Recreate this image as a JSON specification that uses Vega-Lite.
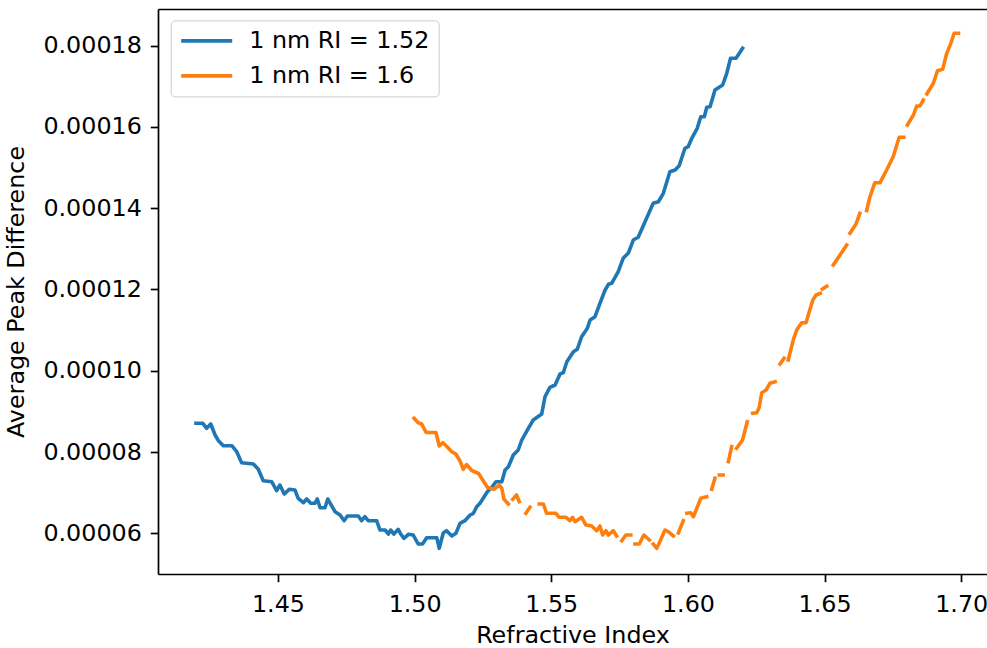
{
  "$schema": "https://vega.github.io/schema/vega-lite/v6.json",
  "width": 829,
  "height": 565,
  "autosize": "none",
  "padding": {"left": 158, "top": 9, "right": 0, "bottom": 74},
  "background": "white",
  "config": {
    "view": {"stroke": null},
    "font": "DejaVu Sans",
    "axis": {
      "labelFont": "DejaVu Sans", "titleFont": "DejaVu Sans",
      "labelFontSize": 23.8, "titleFontSize": 23.8, "titleFontWeight": "normal",
      "labelColor": "black", "titleColor": "black",
      "domainColor": "black", "tickColor": "black",
      "domainWidth": 1.7, "tickWidth": 1.7, "tickSize": 7.7,
      "grid": false
    }
  },
  "data": {"values": [
    {"s":"1 nm RI = 1.52","ri":1.4200,"apd":0.00008706},
    {"s":"1 nm RI = 1.52","ri":1.4225,"apd":0.00008706},
    {"s":"1 nm RI = 1.52","ri":1.4239,"apd":0.00008583},
    {"s":"1 nm RI = 1.52","ri":1.4254,"apd":0.00008689},
    {"s":"1 nm RI = 1.52","ri":1.4270,"apd":0.00008418},
    {"s":"1 nm RI = 1.52","ri":1.4282,"apd":0.00008278},
    {"s":"1 nm RI = 1.52","ri":1.4300,"apd":0.00008155},
    {"s":"1 nm RI = 1.52","ri":1.4331,"apd":0.00008155},
    {"s":"1 nm RI = 1.52","ri":1.4349,"apd":0.00008007},
    {"s":"1 nm RI = 1.52","ri":1.4367,"apd":0.00007737},
    {"s":"1 nm RI = 1.52","ri":1.4410,"apd":0.00007705},
    {"s":"1 nm RI = 1.52","ri":1.4428,"apd":0.00007574},
    {"s":"1 nm RI = 1.52","ri":1.4446,"apd":0.00007294},
    {"s":"1 nm RI = 1.52","ri":1.4477,"apd":0.00007269},
    {"s":"1 nm RI = 1.52","ri":1.4495,"apd":0.00007048},
    {"s":"1 nm RI = 1.52","ri":1.4507,"apd":0.00007188},
    {"s":"1 nm RI = 1.52","ri":1.4523,"apd":0.00006967},
    {"s":"1 nm RI = 1.52","ri":1.4541,"apd":0.00007082},
    {"s":"1 nm RI = 1.52","ri":1.4562,"apd":0.00007065},
    {"s":"1 nm RI = 1.52","ri":1.4574,"apd":0.00006861},
    {"s":"1 nm RI = 1.52","ri":1.4593,"apd":0.00006753},
    {"s":"1 nm RI = 1.52","ri":1.4605,"apd":0.00006844},
    {"s":"1 nm RI = 1.52","ri":1.4620,"apd":0.00006738},
    {"s":"1 nm RI = 1.52","ri":1.4635,"apd":0.00006738},
    {"s":"1 nm RI = 1.52","ri":1.4644,"apd":0.00006844},
    {"s":"1 nm RI = 1.52","ri":1.4654,"apd":0.00006630},
    {"s":"1 nm RI = 1.52","ri":1.4672,"apd":0.00006630},
    {"s":"1 nm RI = 1.52","ri":1.4682,"apd":0.00006844},
    {"s":"1 nm RI = 1.52","ri":1.4709,"apd":0.00006531},
    {"s":"1 nm RI = 1.52","ri":1.4727,"apd":0.00006450},
    {"s":"1 nm RI = 1.52","ri":1.4742,"apd":0.00006310},
    {"s":"1 nm RI = 1.52","ri":1.4754,"apd":0.00006426},
    {"s":"1 nm RI = 1.52","ri":1.4794,"apd":0.00006426},
    {"s":"1 nm RI = 1.52","ri":1.4806,"apd":0.00006310},
    {"s":"1 nm RI = 1.52","ri":1.4818,"apd":0.00006408},
    {"s":"1 nm RI = 1.52","ri":1.4830,"apd":0.00006310},
    {"s":"1 nm RI = 1.52","ri":1.4861,"apd":0.00006310},
    {"s":"1 nm RI = 1.52","ri":1.4873,"apd":0.00006081},
    {"s":"1 nm RI = 1.52","ri":1.4892,"apd":0.00006081},
    {"s":"1 nm RI = 1.52","ri":1.4904,"apd":0.00005983},
    {"s":"1 nm RI = 1.52","ri":1.4912,"apd":0.00006081},
    {"s":"1 nm RI = 1.52","ri":1.4924,"apd":0.00005983},
    {"s":"1 nm RI = 1.52","ri":1.4940,"apd":0.00006098},
    {"s":"1 nm RI = 1.52","ri":1.4949,"apd":0.00005983},
    {"s":"1 nm RI = 1.52","ri":1.4961,"apd":0.00005877},
    {"s":"1 nm RI = 1.52","ri":1.4977,"apd":0.00005975},
    {"s":"1 nm RI = 1.52","ri":1.4995,"apd":0.00005958},
    {"s":"1 nm RI = 1.52","ri":1.5013,"apd":0.00005737},
    {"s":"1 nm RI = 1.52","ri":1.5029,"apd":0.00005737},
    {"s":"1 nm RI = 1.52","ri":1.5044,"apd":0.00005892},
    {"s":"1 nm RI = 1.52","ri":1.5081,"apd":0.00005892},
    {"s":"1 nm RI = 1.52","ri":1.5090,"apd":0.00005631},
    {"s":"1 nm RI = 1.52","ri":1.5105,"apd":0.00006015},
    {"s":"1 nm RI = 1.52","ri":1.5117,"apd":0.00006064},
    {"s":"1 nm RI = 1.52","ri":1.5136,"apd":0.00005934},
    {"s":"1 nm RI = 1.52","ri":1.5151,"apd":0.00006000},
    {"s":"1 nm RI = 1.52","ri":1.5166,"apd":0.00006246},
    {"s":"1 nm RI = 1.52","ri":1.5184,"apd":0.00006310},
    {"s":"1 nm RI = 1.52","ri":1.5203,"apd":0.00006450},
    {"s":"1 nm RI = 1.52","ri":1.5215,"apd":0.00006492},
    {"s":"1 nm RI = 1.52","ri":1.5227,"apd":0.00006654},
    {"s":"1 nm RI = 1.52","ri":1.5239,"apd":0.00006738},
    {"s":"1 nm RI = 1.52","ri":1.5251,"apd":0.00006861},
    {"s":"1 nm RI = 1.52","ri":1.5266,"apd":0.00007023},
    {"s":"1 nm RI = 1.52","ri":1.5282,"apd":0.00007132},
    {"s":"1 nm RI = 1.52","ri":1.5298,"apd":0.00007269},
    {"s":"1 nm RI = 1.52","ri":1.5319,"apd":0.00007269},
    {"s":"1 nm RI = 1.52","ri":1.5331,"apd":0.00007557},
    {"s":"1 nm RI = 1.52","ri":1.5343,"apd":0.00007638},
    {"s":"1 nm RI = 1.52","ri":1.5361,"apd":0.00007926},
    {"s":"1 nm RI = 1.52","ri":1.5379,"apd":0.00008049},
    {"s":"1 nm RI = 1.52","ri":1.5392,"apd":0.00008295},
    {"s":"1 nm RI = 1.52","ri":1.5416,"apd":0.00008583},
    {"s":"1 nm RI = 1.52","ri":1.5434,"apd":0.00008787},
    {"s":"1 nm RI = 1.52","ri":1.5465,"apd":0.00008935},
    {"s":"1 nm RI = 1.52","ri":1.5477,"apd":0.00009360},
    {"s":"1 nm RI = 1.52","ri":1.5495,"apd":0.00009592},
    {"s":"1 nm RI = 1.52","ri":1.5514,"apd":0.00009648},
    {"s":"1 nm RI = 1.52","ri":1.5532,"apd":0.00009919},
    {"s":"1 nm RI = 1.52","ri":1.5544,"apd":0.00009951},
    {"s":"1 nm RI = 1.52","ri":1.5557,"apd":0.00010221},
    {"s":"1 nm RI = 1.52","ri":1.5581,"apd":0.00010467},
    {"s":"1 nm RI = 1.52","ri":1.5595,"apd":0.00010526},
    {"s":"1 nm RI = 1.52","ri":1.5611,"apd":0.00010836},
    {"s":"1 nm RI = 1.52","ri":1.5632,"apd":0.00011043},
    {"s":"1 nm RI = 1.52","ri":1.5642,"apd":0.00011247},
    {"s":"1 nm RI = 1.52","ri":1.5660,"apd":0.00011328},
    {"s":"1 nm RI = 1.52","ri":1.5678,"apd":0.00011658},
    {"s":"1 nm RI = 1.52","ri":1.5697,"apd":0.00011985},
    {"s":"1 nm RI = 1.52","ri":1.5709,"apd":0.00012125},
    {"s":"1 nm RI = 1.52","ri":1.5721,"apd":0.00012150},
    {"s":"1 nm RI = 1.52","ri":1.5745,"apd":0.00012435},
    {"s":"1 nm RI = 1.52","ri":1.5763,"apd":0.00012765},
    {"s":"1 nm RI = 1.52","ri":1.5782,"apd":0.00012895},
    {"s":"1 nm RI = 1.52","ri":1.5800,"apd":0.00013215},
    {"s":"1 nm RI = 1.52","ri":1.5818,"apd":0.00013282},
    {"s":"1 nm RI = 1.52","ri":1.5843,"apd":0.00013665},
    {"s":"1 nm RI = 1.52","ri":1.5873,"apd":0.00014118},
    {"s":"1 nm RI = 1.52","ri":1.5892,"apd":0.00014157},
    {"s":"1 nm RI = 1.52","ri":1.5910,"apd":0.00014364},
    {"s":"1 nm RI = 1.52","ri":1.5934,"apd":0.00014895},
    {"s":"1 nm RI = 1.52","ri":1.5953,"apd":0.00014937},
    {"s":"1 nm RI = 1.52","ri":1.5968,"apd":0.00015043},
    {"s":"1 nm RI = 1.52","ri":1.5989,"apd":0.00015471},
    {"s":"1 nm RI = 1.52","ri":1.6001,"apd":0.00015510},
    {"s":"1 nm RI = 1.52","ri":1.6014,"apd":0.00015717},
    {"s":"1 nm RI = 1.52","ri":1.6034,"apd":0.00015963},
    {"s":"1 nm RI = 1.52","ri":1.6047,"apd":0.00016248},
    {"s":"1 nm RI = 1.52","ri":1.6060,"apd":0.00016248},
    {"s":"1 nm RI = 1.52","ri":1.6069,"apd":0.00016480},
    {"s":"1 nm RI = 1.52","ri":1.6081,"apd":0.00016494},
    {"s":"1 nm RI = 1.52","ri":1.6099,"apd":0.00016905},
    {"s":"1 nm RI = 1.52","ri":1.6127,"apd":0.00017028},
    {"s":"1 nm RI = 1.52","ri":1.6142,"apd":0.00017316},
    {"s":"1 nm RI = 1.52","ri":1.6156,"apd":0.00017685},
    {"s":"1 nm RI = 1.52","ri":1.6176,"apd":0.00017685},
    {"s":"1 nm RI = 1.52","ri":1.6200,"apd":0.00017931},

    {"s":"1 nm RI = 1.6","ri":1.4998,"apd":0.00008829},
    {"s":"1 nm RI = 1.6","ri":1.5013,"apd":0.00008721},
    {"s":"1 nm RI = 1.6","ri":1.5026,"apd":0.00008689},
    {"s":"1 nm RI = 1.6","ri":1.5042,"apd":0.00008480},
    {"s":"1 nm RI = 1.6","ri":1.5078,"apd":0.00008480},
    {"s":"1 nm RI = 1.6","ri":1.5090,"apd":0.00008148},
    {"s":"1 nm RI = 1.6","ri":1.5103,"apd":0.00008229},
    {"s":"1 nm RI = 1.6","ri":1.5117,"apd":0.00008140},
    {"s":"1 nm RI = 1.6","ri":1.5136,"apd":0.00008007},
    {"s":"1 nm RI = 1.6","ri":1.5151,"apd":0.00007951},
    {"s":"1 nm RI = 1.6","ri":1.5166,"apd":0.00007779},
    {"s":"1 nm RI = 1.6","ri":1.5178,"apd":0.00007574},
    {"s":"1 nm RI = 1.6","ri":1.5190,"apd":0.00007692},
    {"s":"1 nm RI = 1.6","ri":1.5209,"apd":0.00007545},
    {"s":"1 nm RI = 1.6","ri":1.5234,"apd":0.00007471},
    {"s":"1 nm RI = 1.6","ri":1.5266,"apd":0.00007132},
    {"s":"1 nm RI = 1.6","ri":1.5290,"apd":0.00007082},
    {"s":"1 nm RI = 1.6","ri":1.5310,"apd":0.00007188},
    {"s":"1 nm RI = 1.6","ri":1.5319,"apd":0.00007107},
    {"s":"1 nm RI = 1.6","ri":1.5327,"apd":0.00006836},
    {"s":"1 nm RI = 1.6","ri":1.5343,"apd":0.00006721},
    {"s":"1 nm RI = 1.6","ri":1.5351,"apd":null},
    {"s":"1 nm RI = 1.6","ri":1.5359,"apd":0.00006836},
    {"s":"1 nm RI = 1.6","ri":1.5373,"apd":0.00006942},
    {"s":"1 nm RI = 1.6","ri":1.5383,"apd":0.00006777},
    {"s":"1 nm RI = 1.6","ri":1.5395,"apd":null},
    {"s":"1 nm RI = 1.6","ri":1.5407,"apd":0.00006492},
    {"s":"1 nm RI = 1.6","ri":1.5422,"apd":0.00006640},
    {"s":"1 nm RI = 1.6","ri":1.5440,"apd":null},
    {"s":"1 nm RI = 1.6","ri":1.5456,"apd":0.00006721},
    {"s":"1 nm RI = 1.6","ri":1.5471,"apd":0.00006721},
    {"s":"1 nm RI = 1.6","ri":1.5483,"apd":0.00006492},
    {"s":"1 nm RI = 1.6","ri":1.5517,"apd":0.00006492},
    {"s":"1 nm RI = 1.6","ri":1.5529,"apd":0.00006394},
    {"s":"1 nm RI = 1.6","ri":1.5554,"apd":0.00006394},
    {"s":"1 nm RI = 1.6","ri":1.5568,"apd":0.00006310},
    {"s":"1 nm RI = 1.6","ri":1.5578,"apd":0.00006394},
    {"s":"1 nm RI = 1.6","ri":1.5587,"apd":0.00006285},
    {"s":"1 nm RI = 1.6","ri":1.5611,"apd":0.00006394},
    {"s":"1 nm RI = 1.6","ri":1.5627,"apd":0.00006204},
    {"s":"1 nm RI = 1.6","ri":1.5648,"apd":0.00006180},
    {"s":"1 nm RI = 1.6","ri":1.5666,"apd":0.00006064},
    {"s":"1 nm RI = 1.6","ri":1.5678,"apd":0.00006180},
    {"s":"1 nm RI = 1.6","ri":1.5688,"apd":0.00005958},
    {"s":"1 nm RI = 1.6","ri":1.5700,"apd":0.00006064},
    {"s":"1 nm RI = 1.6","ri":1.5709,"apd":0.00005958},
    {"s":"1 nm RI = 1.6","ri":1.5727,"apd":0.00006064},
    {"s":"1 nm RI = 1.6","ri":1.5739,"apd":0.00005934},
    {"s":"1 nm RI = 1.6","ri":1.5748,"apd":null},
    {"s":"1 nm RI = 1.6","ri":1.5758,"apd":0.00005818},
    {"s":"1 nm RI = 1.6","ri":1.5773,"apd":0.00005958},
    {"s":"1 nm RI = 1.6","ri":1.5791,"apd":0.00005958},
    {"s":"1 nm RI = 1.6","ri":1.5798,"apd":null},
    {"s":"1 nm RI = 1.6","ri":1.5806,"apd":0.00005737},
    {"s":"1 nm RI = 1.6","ri":1.5822,"apd":0.00005737},
    {"s":"1 nm RI = 1.6","ri":1.5839,"apd":0.00005958},
    {"s":"1 nm RI = 1.6","ri":1.5859,"apd":0.00005835},
    {"s":"1 nm RI = 1.6","ri":1.5866,"apd":null},
    {"s":"1 nm RI = 1.6","ri":1.5873,"apd":0.00005737},
    {"s":"1 nm RI = 1.6","ri":1.5886,"apd":0.00005631},
    {"s":"1 nm RI = 1.6","ri":1.5900,"apd":0.00005835},
    {"s":"1 nm RI = 1.6","ri":1.5916,"apd":0.00006081},
    {"s":"1 nm RI = 1.6","ri":1.5928,"apd":0.00006039},
    {"s":"1 nm RI = 1.6","ri":1.5947,"apd":0.00005934},
    {"s":"1 nm RI = 1.6","ri":1.5956,"apd":null},
    {"s":"1 nm RI = 1.6","ri":1.5965,"apd":0.00006007},
    {"s":"1 nm RI = 1.6","ri":1.5983,"apd":0.00006310},
    {"s":"1 nm RI = 1.6","ri":1.5990,"apd":null},
    {"s":"1 nm RI = 1.6","ri":1.5996,"apd":0.00006492},
    {"s":"1 nm RI = 1.6","ri":1.6010,"apd":0.00006507},
    {"s":"1 nm RI = 1.6","ri":1.6020,"apd":0.00006408},
    {"s":"1 nm RI = 1.6","ri":1.6047,"apd":0.00006861},
    {"s":"1 nm RI = 1.6","ri":1.6069,"apd":0.00006900},
    {"s":"1 nm RI = 1.6","ri":1.6078,"apd":null},
    {"s":"1 nm RI = 1.6","ri":1.6087,"apd":0.00007082},
    {"s":"1 nm RI = 1.6","ri":1.6099,"apd":0.00007353},
    {"s":"1 nm RI = 1.6","ri":1.6107,"apd":null},
    {"s":"1 nm RI = 1.6","ri":1.6115,"apd":0.00007434},
    {"s":"1 nm RI = 1.6","ri":1.6129,"apd":0.00007434},
    {"s":"1 nm RI = 1.6","ri":1.6138,"apd":null},
    {"s":"1 nm RI = 1.6","ri":1.6148,"apd":0.00007761},
    {"s":"1 nm RI = 1.6","ri":1.6160,"apd":0.00008130},
    {"s":"1 nm RI = 1.6","ri":1.6169,"apd":null},
    {"s":"1 nm RI = 1.6","ri":1.6178,"apd":0.00008091},
    {"s":"1 nm RI = 1.6","ri":1.6200,"apd":0.00008295},
    {"s":"1 nm RI = 1.6","ri":1.6217,"apd":0.00008745},
    {"s":"1 nm RI = 1.6","ri":1.6227,"apd":null},
    {"s":"1 nm RI = 1.6","ri":1.6237,"apd":0.00008952},
    {"s":"1 nm RI = 1.6","ri":1.6252,"apd":0.00008967},
    {"s":"1 nm RI = 1.6","ri":1.6261,"apd":0.00009100},
    {"s":"1 nm RI = 1.6","ri":1.6270,"apd":0.00009459},
    {"s":"1 nm RI = 1.6","ri":1.6286,"apd":0.00009525},
    {"s":"1 nm RI = 1.6","ri":1.6300,"apd":0.00009690},
    {"s":"1 nm RI = 1.6","ri":1.6319,"apd":0.00009729},
    {"s":"1 nm RI = 1.6","ri":1.6328,"apd":null},
    {"s":"1 nm RI = 1.6","ri":1.6337,"apd":0.00010165},
    {"s":"1 nm RI = 1.6","ri":1.6352,"apd":0.00010305},
    {"s":"1 nm RI = 1.6","ri":1.6360,"apd":null},
    {"s":"1 nm RI = 1.6","ri":1.6367,"apd":0.00010263},
    {"s":"1 nm RI = 1.6","ri":1.6386,"apd":0.00010772},
    {"s":"1 nm RI = 1.6","ri":1.6398,"apd":0.00011001},
    {"s":"1 nm RI = 1.6","ri":1.6416,"apd":0.00011181},
    {"s":"1 nm RI = 1.6","ri":1.6432,"apd":0.00011181},
    {"s":"1 nm RI = 1.6","ri":1.6444,"apd":0.00011451},
    {"s":"1 nm RI = 1.6","ri":1.6457,"apd":0.00011739},
    {"s":"1 nm RI = 1.6","ri":1.6469,"apd":0.00011862},
    {"s":"1 nm RI = 1.6","ri":1.6484,"apd":0.00011904},
    {"s":"1 nm RI = 1.6","ri":1.6488,"apd":null},
    {"s":"1 nm RI = 1.6","ri":1.6492,"apd":0.00012010},
    {"s":"1 nm RI = 1.6","ri":1.6508,"apd":0.00012076},
    {"s":"1 nm RI = 1.6","ri":1.6520,"apd":null},
    {"s":"1 nm RI = 1.6","ri":1.6532,"apd":0.00012600},
    {"s":"1 nm RI = 1.6","ri":1.6581,"apd":0.00013092},
    {"s":"1 nm RI = 1.6","ri":1.6587,"apd":null},
    {"s":"1 nm RI = 1.6","ri":1.6593,"apd":0.00013380},
    {"s":"1 nm RI = 1.6","ri":1.6615,"apd":0.00013609},
    {"s":"1 nm RI = 1.6","ri":1.6629,"apd":0.00013872},
    {"s":"1 nm RI = 1.6","ri":1.6641,"apd":null},
    {"s":"1 nm RI = 1.6","ri":1.6654,"apd":0.00013936},
    {"s":"1 nm RI = 1.6","ri":1.6666,"apd":0.00014280},
    {"s":"1 nm RI = 1.6","ri":1.6684,"apd":0.00014625},
    {"s":"1 nm RI = 1.6","ri":1.6703,"apd":0.00014625},
    {"s":"1 nm RI = 1.6","ri":1.6727,"apd":0.00014937},
    {"s":"1 nm RI = 1.6","ri":1.6751,"apd":0.00015264},
    {"s":"1 nm RI = 1.6","ri":1.6773,"apd":0.00015742},
    {"s":"1 nm RI = 1.6","ri":1.6790,"apd":0.00015742},
    {"s":"1 nm RI = 1.6","ri":1.6797,"apd":null},
    {"s":"1 nm RI = 1.6","ri":1.6803,"apd":0.00016044},
    {"s":"1 nm RI = 1.6","ri":1.6825,"apd":0.00016290},
    {"s":"1 nm RI = 1.6","ri":1.6837,"apd":0.00016512},
    {"s":"1 nm RI = 1.6","ri":1.6849,"apd":0.00016512},
    {"s":"1 nm RI = 1.6","ri":1.6861,"apd":0.00016659},
    {"s":"1 nm RI = 1.6","ri":1.6868,"apd":null},
    {"s":"1 nm RI = 1.6","ri":1.6874,"apd":0.00016807},
    {"s":"1 nm RI = 1.6","ri":1.6898,"apd":0.00017070},
    {"s":"1 nm RI = 1.6","ri":1.6913,"apd":0.00017380},
    {"s":"1 nm RI = 1.6","ri":1.6932,"apd":0.00017414},
    {"s":"1 nm RI = 1.6","ri":1.6947,"apd":0.00017808},
    {"s":"1 nm RI = 1.6","ri":1.6962,"apd":0.00018054},
    {"s":"1 nm RI = 1.6","ri":1.6974,"apd":0.00018300},
    {"s":"1 nm RI = 1.6","ri":1.6990,"apd":0.00018300}
  ]},
  "layer": [
    {
      "mark": {"type": "line", "strokeWidth": 3.6, "strokeJoin": "round", "strokeCap": "square", "invalid": "break-paths-filter-domains"},
      "encoding": {
        "x": {
          "field": "ri", "type": "quantitative",
          "scale": {"domain": [1.4061, 1.70943], "nice": false, "zero": false},
          "axis": {"title": "Refractive Index", "values": [1.45, 1.5, 1.55, 1.6, 1.65, 1.7], "format": ".2f", "labelPadding": 11, "titlePadding": 7, "orient": "bottom"}
        },
        "y": {
          "field": "apd", "type": "quantitative",
          "scale": {"domain": [0.00004999, 0.00018898], "nice": false, "zero": false},
          "axis": {"title": "Average Peak Difference", "values": [0.00006, 0.00008, 0.0001, 0.00012, 0.00014, 0.00016, 0.00018], "format": ".5f", "labelPadding": 9, "titlePadding": 14}
        },
        "color": {
          "field": "s", "type": "nominal",
          "scale": {"domain": ["1 nm RI = 1.52", "1 nm RI = 1.6"], "range": ["#1f77b4", "#ff7f0e"]},
          "legend": {
            "title": null, "orient": "none", "legendX": 12.7, "legendY": 11.4,
            "symbolType": "stroke", "symbolSize": 2601, "symbolStrokeWidth": 3.6,
            "labelFont": "DejaVu Sans", "labelFontSize": 23.8, "labelColor": "black", "labelOffset": 15,
            "clipHeight": 24, "rowPadding": 11, "padding": 8.5,
            "strokeColor": "#cccccc", "fillColor": "white", "cornerRadius": 4, "labelLimit": 400
          }
        }
      }
    },
    {
      "mark": {"type": "point", "opacity": 0},
      "encoding": {
        "x": {
          "field": "ri", "type": "quantitative",
          "axis": {"orient": "top", "labels": false, "ticks": false, "title": null, "domain": true}
        },
        "y": {"field": "apd", "type": "quantitative", "axis": null}
      }
    }
  ],
  "resolve": {"axis": {"x": "independent", "y": "independent"}}
}
